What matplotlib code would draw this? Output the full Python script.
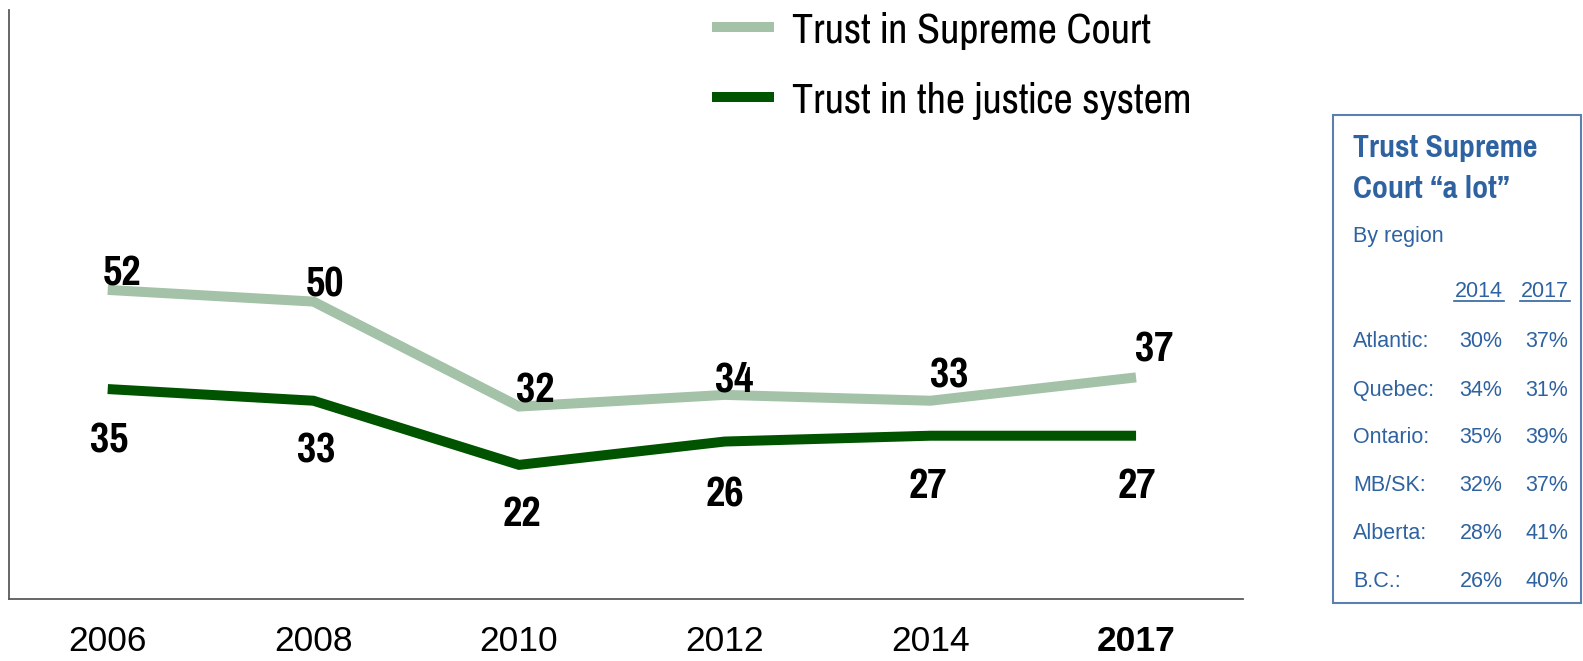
import matplotlib
matplotlib.use("Agg")
import matplotlib.pyplot as plt
from matplotlib.patches import Rectangle
from matplotlib.lines import Line2D

# ---------------- data ----------------
years = ["2006", "2008", "2010", "2012", "2014", "2017"]
supreme_court = [52, 50, 32, 34, 33, 37]
justice_system = [35, 33, 22, 26, 27, 27]
series_labels = ["Trust in Supreme Court", "Trust in the justice system"]

box_title = ["Trust Supreme", "Court \u201ca lot\u201d"]
box_subtitle = "By region"
box_years = ["2014", "2017"]
regions = ["Atlantic:", "Quebec:", "Ontario:", "MB/SK:", "Alberta:", "B.C.:"]
region_2014 = ["30%", "34%", "35%", "32%", "28%", "26%"]
region_2017 = ["37%", "31%", "39%", "37%", "41%", "40%"]

# ---------------- style ----------------
W, H = 1583, 661
NARROW = ["Pragati Narrow", "Liberation Sans", "DejaVu Sans"]
REG = ["Liberation Sans", "DejaVu Sans"]
LIGHT = "#a3c2a8"
DARK = "#005400"
BLUE = "#2e62a0"

plt.rcParams["font.family"] = NARROW

fig = plt.figure(figsize=(W / 100, H / 100), dpi=100)

def fx(px):
    return px / W

def fy(py):
    return 1 - py / H

ax_left, ax_right, ax_top, ax_bottom = 9, 1243, 10, 599
ax = fig.add_axes([fx(ax_left), fy(ax_bottom), fx(ax_right - ax_left), (ax_bottom - ax_top) / H])

x = list(range(len(years)))
ax.plot(x, supreme_court, color=LIGHT, lw=7.2, solid_capstyle="butt",
        solid_joinstyle="miter", label=series_labels[0])
ax.plot(x, justice_system, color=DARK, lw=7.2, solid_capstyle="butt",
        solid_joinstyle="miter", label=series_labels[1])

ax.set_xlim(-0.48, 5.52)
ax.set_ylim(-1, 100)

# data labels (offsets in pixels)
light_off = [(14, 20), (12, 21), (16, 20), (9, 19), (19, 29), (18, 31)]
dark_off = [(1, -48), (3, -46), (3, -46), (0, -49), (-3, -47), (1, -47)]
for i, v in enumerate(supreme_court):
    ax.annotate(str(v), (i, v), xytext=light_off[i], textcoords="offset pixels",
                ha="center", va="center_baseline", fontsize=33, fontweight="bold",
                family=NARROW, color="black")
for i, v in enumerate(justice_system):
    ax.annotate(str(v), (i, v), xytext=dark_off[i], textcoords="offset pixels",
                ha="center", va="center_baseline", fontsize=33, fontweight="bold",
                family=NARROW, color="black")

# axes styling
for s in ["top", "right"]:
    ax.spines[s].set_visible(False)
for s in ["left", "bottom"]:
    ax.spines[s].set_color("#5a5a5a")
    ax.spines[s].set_linewidth(1.3)
ax.set_yticks([])
ax.set_xticks(x)
ax.set_xticklabels(years, fontsize=25.5, family=REG)
ax.tick_params(axis="x", length=0, pad=19)
ax.get_xticklabels()[-1].set_fontweight("bold")

# legend
leg = ax.legend(loc="upper left", bbox_to_anchor=(fx(712), fy(11)),
                bbox_transform=fig.transFigure, frameon=False,
                prop={"family": NARROW, "size": 33},
                handlelength=1.35, handletextpad=0.39, labelspacing=0.67,
                borderaxespad=0, borderpad=0)

# ---------------- right box ----------------
bx0, by0, bx1, by1 = 1333, 115, 1581, 603
fig.add_artist(Rectangle((fx(bx0), fy(by1)), fx(bx1 - bx0), (by1 - by0) / H,
                         transform=fig.transFigure, fill=False,
                         edgecolor="#5a7fb0", lw=1.5))

tx = 1353
fig.text(fx(tx), fy(157), box_title[0], fontsize=25, fontweight="bold",
         color=BLUE, family=NARROW, va="baseline")
fig.text(fx(tx), fy(198), box_title[1], fontsize=25, fontweight="bold",
         color=BLUE, family=NARROW, va="baseline")
fig.text(fx(tx), fy(242), box_subtitle, fontsize=15.5, color=BLUE,
         family=REG, va="baseline")

col_x = [1479, 1545]
for cx, yr in zip(col_x, box_years):
    fig.text(fx(cx), fy(297), yr, fontsize=15.5, color=BLUE, family=REG,
             ha="center", va="baseline")
    fig.add_artist(Line2D([fx(cx - 25), fx(cx + 25)], [fy(300.5), fy(300.5)],
                          transform=fig.transFigure, color=BLUE, lw=1.2))

row_y = [347, 396, 443, 491, 539, 587]
for ry, name, a, b in zip(row_y, regions, region_2014, region_2017):
    fig.text(fx(tx), fy(ry), name, fontsize=15.5, color=BLUE, family=REG,
             va="baseline")
    fig.text(fx(col_x[0] + 2), fy(ry), a, fontsize=15.5, color=BLUE, family=REG,
             ha="center", va="baseline")
    fig.text(fx(col_x[1] + 2), fy(ry), b, fontsize=15.5, color=BLUE, family=REG,
             ha="center", va="baseline")

fig.savefig("out.png", dpi=100)
